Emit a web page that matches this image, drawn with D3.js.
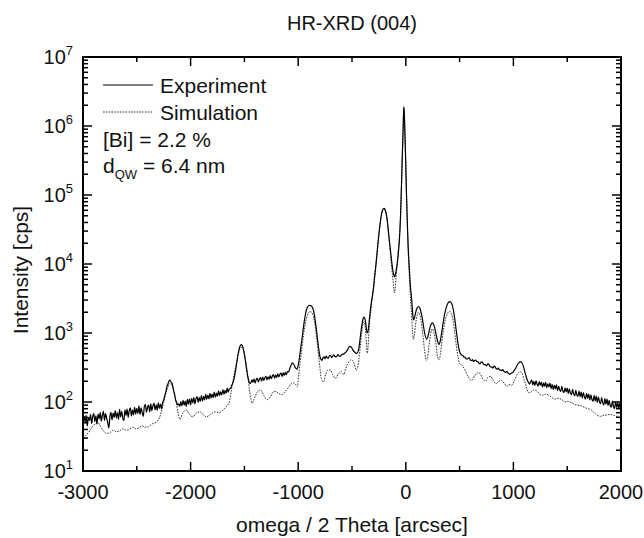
<!DOCTYPE html>
<html>
<head>
    <script type="text/javascript" src="https://d3js.org/d3.v7.min.js"></script>
    <style>
        body { margin: 0; background: #fff; }
        svg { display: block; font-family: "Liberation Sans", Arial, sans-serif; }
    </style>
</head>
<body>
    <svg></svg>
    <script>
        // measured curve: [omega/2theta (arcsec), intensity (cps)]
        const experiment = [
            [-3000, 47], [-2990, 62], [-2980, 51], [-2970, 64], [-2960, 45], [-2950, 60], [-2940, 54], [-2930, 66],
            [-2920, 49], [-2910, 61], [-2900, 68], [-2890, 52], [-2880, 63], [-2870, 48], [-2860, 67], [-2850, 57],
            [-2840, 70], [-2830, 53], [-2820, 64], [-2810, 73], [-2800, 54], [-2790, 68], [-2780, 58], [-2770, 50],
            [-2760, 42], [-2750, 62], [-2740, 71], [-2730, 55], [-2720, 69], [-2710, 60], [-2700, 75], [-2690, 59],
            [-2680, 70], [-2670, 56], [-2660, 78], [-2650, 61], [-2640, 73], [-2630, 58], [-2620, 54], [-2610, 77],
            [-2600, 64], [-2590, 79], [-2580, 60], [-2570, 75], [-2560, 82], [-2550, 63], [-2540, 77], [-2530, 65],
            [-2520, 84], [-2510, 67], [-2500, 81], [-2490, 68], [-2480, 88], [-2470, 66], [-2460, 82], [-2450, 70],
            [-2440, 62], [-2430, 86], [-2420, 92], [-2410, 71], [-2400, 84], [-2390, 90], [-2380, 72], [-2370, 94],
            [-2360, 75], [-2350, 88], [-2340, 96], [-2330, 77], [-2320, 91], [-2310, 76], [-2300, 97], [-2290, 81],
            [-2280, 93], [-2270, 80], [-2260, 100], [-2250, 106], [-2240, 124], [-2230, 140], [-2220, 168], [-2210, 184],
            [-2200, 203], [-2190, 208], [-2180, 192], [-2170, 183], [-2160, 152], [-2150, 131], [-2140, 108], [-2130, 99],
            [-2120, 90], [-2110, 94], [-2100, 86], [-2090, 101], [-2080, 88], [-2070, 106], [-2060, 90], [-2050, 103],
            [-2040, 86], [-2030, 109], [-2020, 93], [-2010, 111], [-2000, 91], [-1990, 113], [-1980, 97], [-1970, 116],
            [-1960, 94], [-1950, 112], [-1940, 120], [-1930, 99], [-1920, 117], [-1910, 102], [-1900, 124], [-1890, 104],
            [-1880, 121], [-1870, 107], [-1860, 129], [-1850, 109], [-1840, 126], [-1830, 111], [-1820, 134], [-1810, 114],
            [-1800, 130], [-1790, 116], [-1780, 139], [-1770, 118], [-1760, 135], [-1750, 121], [-1740, 145], [-1730, 124],
            [-1720, 140], [-1710, 127], [-1700, 151], [-1690, 130], [-1680, 147], [-1670, 134], [-1660, 159], [-1650, 139],
            [-1640, 155], [-1630, 156], [-1620, 172], [-1610, 185], [-1600, 205], [-1590, 242], [-1580, 300], [-1570, 380],
            [-1560, 480], [-1550, 580], [-1540, 650], [-1530, 680], [-1520, 660], [-1510, 590], [-1500, 490], [-1490, 390],
            [-1480, 300], [-1470, 240], [-1460, 205], [-1450, 186], [-1440, 190], [-1430, 210], [-1420, 194], [-1410, 216],
            [-1400, 188], [-1390, 212], [-1380, 220], [-1370, 196], [-1360, 214], [-1350, 225], [-1340, 201], [-1330, 229],
            [-1320, 206], [-1310, 224], [-1300, 236], [-1290, 209], [-1280, 232], [-1270, 214], [-1260, 242], [-1250, 218],
            [-1240, 237], [-1230, 249], [-1220, 222], [-1210, 246], [-1200, 227], [-1190, 256], [-1180, 232], [-1170, 252],
            [-1160, 262], [-1150, 235], [-1140, 265], [-1130, 243], [-1120, 268], [-1110, 248], [-1100, 276], [-1090, 272],
            [-1080, 300], [-1070, 330], [-1055, 368], [-1040, 350], [-1025, 312], [-1010, 300], [-1000, 340], [-990, 420],
            [-980, 550], [-970, 720], [-960, 950], [-950, 1250], [-940, 1600], [-930, 1950], [-920, 2250], [-910, 2420],
            [-900, 2500], [-890, 2520], [-880, 2480], [-870, 2380], [-860, 2180], [-850, 1850], [-840, 1450], [-830, 1100],
            [-820, 800], [-810, 600], [-800, 470], [-790, 420], [-780, 400], [-770, 438], [-760, 452], [-750, 422],
            [-740, 462], [-730, 440], [-720, 430], [-710, 470], [-700, 476], [-690, 440], [-680, 458], [-670, 484],
            [-660, 460], [-650, 450], [-640, 462], [-630, 488], [-620, 466], [-610, 456], [-600, 476], [-590, 496],
            [-580, 488], [-570, 510], [-560, 520], [-540, 580], [-520, 640], [-505, 620], [-490, 560], [-470, 520],
            [-455, 505], [-440, 560], [-430, 700], [-420, 950], [-410, 1250], [-400, 1550], [-390, 1700], [-380, 1600],
            [-370, 1300], [-360, 1000], [-350, 1080], [-340, 1500], [-330, 2100], [-320, 2800], [-310, 3500], [-300, 4600],
            [-290, 6500], [-280, 9000], [-270, 13000], [-260, 19000], [-250, 27000], [-240, 37000], [-230, 48000], [-220, 58000],
            [-210, 63000], [-200, 64000], [-190, 60000], [-180, 52000], [-170, 40000], [-160, 28000], [-150, 20000], [-140, 14500],
            [-130, 10500], [-120, 8000], [-110, 6800], [-104, 6500], [-98, 6900], [-90, 8000], [-80, 10000], [-70, 14000],
            [-60, 22000], [-50, 45000], [-42, 110000], [-34, 300000], [-26, 800000], [-22, 1300000], [-18, 1900000], [-14, 1500000],
            [-10, 1000000], [-2, 350000], [6, 110000], [14, 40000], [22, 18000], [32, 9000], [42, 5000], [55, 3000],
            [63, 2000], [71, 1550], [80, 1650], [92, 2000], [105, 2300], [118, 2420], [130, 2300], [145, 1900],
            [160, 1400], [175, 1000], [194, 810], [210, 950], [228, 1250], [247, 1400], [265, 1250], [285, 900],
            [300, 720], [309, 680], [320, 760], [335, 1050], [350, 1500], [365, 2000], [380, 2450], [395, 2750],
            [410, 2850], [425, 2700], [440, 2250], [455, 1600], [470, 1050], [485, 700], [500, 540], [517, 480],
            [530, 472], [540, 446], [550, 448], [560, 424], [570, 420], [580, 432], [590, 436], [600, 404],
            [610, 396], [620, 410], [630, 384], [640, 400], [650, 406], [660, 386], [670, 384], [680, 364],
            [690, 358], [700, 376], [710, 382], [720, 356], [730, 346], [740, 348], [750, 334], [760, 354],
            [770, 356], [780, 332], [790, 322], [800, 320], [810, 310], [820, 330], [830, 324], [840, 304],
            [850, 300], [860, 310], [870, 292], [880, 290], [890, 284], [900, 296], [910, 280], [920, 272],
            [930, 268], [940, 277], [950, 262], [960, 256], [970, 254], [980, 262], [990, 266], [1000, 274],
            [1010, 290], [1020, 308], [1030, 330], [1040, 352], [1050, 370], [1066, 386], [1080, 368], [1095, 320],
            [1110, 260], [1125, 215], [1140, 192], [1150, 182], [1160, 196], [1170, 208], [1180, 178], [1190, 199],
            [1200, 174], [1210, 203], [1220, 181], [1230, 170], [1240, 198], [1250, 176], [1260, 194], [1270, 164],
            [1280, 189], [1290, 169], [1300, 192], [1310, 161], [1320, 184], [1330, 165], [1340, 188], [1350, 156],
            [1360, 180], [1370, 152], [1380, 175], [1390, 155], [1400, 177], [1410, 146], [1420, 169], [1430, 151],
            [1440, 142], [1450, 168], [1460, 144], [1470, 137], [1480, 161], [1490, 140], [1500, 159], [1510, 132],
            [1520, 155], [1530, 135], [1540, 128], [1550, 152], [1560, 131], [1570, 123], [1580, 147], [1590, 126],
            [1600, 121], [1610, 144], [1620, 120], [1630, 139], [1640, 115], [1650, 137], [1660, 118], [1670, 110],
            [1680, 134], [1690, 113], [1700, 130], [1710, 107], [1720, 127], [1730, 109], [1740, 102], [1750, 125],
            [1760, 104], [1770, 122], [1780, 99], [1790, 118], [1800, 101], [1810, 95], [1820, 116], [1830, 97],
            [1840, 91], [1850, 112], [1860, 93], [1870, 110], [1880, 89], [1890, 106], [1900, 88], [1910, 84],
            [1920, 103], [1930, 86], [1940, 81], [1950, 100], [1960, 83], [1970, 98], [1980, 80], [1990, 96],
            [2000, 85]
        ];

        // simulated curve
        const simulation = [
            [-3000, 30], [-2980, 32], [-2950, 36], [-2920, 42], [-2890, 48], [-2860, 50], [-2840, 45], [-2810, 38],
            [-2780, 35], [-2750, 36], [-2720, 39], [-2690, 37], [-2660, 38], [-2630, 41], [-2600, 39], [-2570, 40],
            [-2540, 43], [-2510, 41], [-2480, 42], [-2450, 45], [-2420, 43], [-2390, 44], [-2360, 48], [-2330, 50],
            [-2300, 55], [-2280, 65], [-2260, 85], [-2240, 115], [-2220, 150], [-2200, 180], [-2190, 185], [-2180, 180],
            [-2160, 150], [-2140, 110], [-2120, 75], [-2100, 56], [-2070, 70], [-2040, 77], [-2010, 66], [-1980, 61],
            [-1950, 68], [-1916, 72], [-1885, 66], [-1854, 61], [-1815, 66], [-1777, 72], [-1740, 70], [-1700, 76],
            [-1670, 85], [-1640, 100], [-1620, 150], [-1600, 230], [-1580, 330], [-1560, 470], [-1545, 570], [-1530, 620],
            [-1515, 600], [-1500, 500], [-1485, 370], [-1470, 250], [-1455, 160], [-1440, 110], [-1429, 96], [-1410, 110],
            [-1380, 140], [-1350, 150], [-1320, 125], [-1290, 108], [-1260, 118], [-1230, 140], [-1207, 142], [-1180, 132],
            [-1150, 128], [-1130, 135], [-1100, 155], [-1070, 180], [-1040, 190], [-1025, 180], [-1008, 165], [-995, 250],
            [-980, 400], [-965, 620], [-950, 950], [-935, 1350], [-920, 1700], [-905, 1950], [-890, 2050], [-875, 2000],
            [-860, 1750], [-845, 1350], [-830, 900], [-815, 550], [-800, 330], [-785, 220], [-765, 195], [-745, 250],
            [-725, 290], [-699, 290], [-680, 250], [-653, 220], [-630, 250], [-600, 275], [-575, 250], [-560, 300],
            [-530, 380], [-505, 410], [-480, 360], [-460, 290], [-445, 330], [-430, 500], [-420, 700], [-410, 1000],
            [-400, 1300], [-391, 1450], [-382, 1350], [-372, 1000], [-364, 650], [-358, 510], [-352, 600], [-345, 900],
            [-335, 1500], [-325, 2100], [-315, 2900], [-300, 4300], [-290, 6200], [-280, 8800], [-270, 12800], [-260, 18500],
            [-250, 26500], [-240, 36000], [-230, 47000], [-220, 57000], [-210, 62000], [-200, 62000], [-190, 58000], [-180, 50000],
            [-170, 39000], [-160, 27000], [-150, 18500], [-140, 12500], [-130, 8500], [-120, 6000], [-112, 4500], [-106, 3800],
            [-100, 4200], [-92, 6000], [-84, 8500], [-76, 12000], [-68, 17000], [-60, 23000], [-50, 45000], [-42, 110000],
            [-34, 300000], [-26, 800000], [-22, 1300000], [-18, 1850000], [-14, 1450000], [-10, 1000000], [-2, 350000], [6, 110000],
            [14, 40000], [22, 16000], [32, 7000], [42, 3500], [52, 2000], [62, 1100], [70, 800], [78, 900],
            [90, 1300], [105, 1800], [118, 2000], [132, 1800], [145, 1400], [160, 900], [175, 550], [190, 400],
            [200, 420], [215, 650], [230, 950], [247, 1150], [262, 1000], [280, 700], [295, 450], [309, 410],
            [322, 500], [335, 750], [350, 1100], [365, 1500], [380, 1800], [395, 2000], [410, 2050], [425, 1900],
            [440, 1500], [455, 1000], [470, 650], [485, 450], [500, 360], [517, 350], [545, 300], [575, 240],
            [610, 205], [640, 240], [665, 265], [690, 260], [715, 215], [740, 200], [765, 230], [790, 235],
            [815, 200], [840, 185], [865, 200], [890, 205], [915, 185], [940, 168], [960, 180], [985, 175],
            [1010, 205], [1035, 250], [1060, 275], [1080, 260], [1100, 210], [1120, 165], [1145, 135], [1165, 140],
            [1190, 150], [1215, 145], [1240, 132], [1270, 125], [1300, 130], [1330, 125], [1360, 115], [1390, 110],
            [1420, 113], [1450, 108], [1480, 100], [1510, 102], [1540, 98], [1570, 92], [1600, 90], [1630, 88],
            [1660, 84], [1690, 80], [1720, 78], [1750, 70], [1780, 64], [1810, 62], [1840, 64], [1870, 65],
            [1900, 66], [1930, 64], [1960, 62], [1980, 60], [2000, 58]
        ];

        const xTicks = [-3000, -2000, -1000, 0, 1000, 2000];
        const xMinorTicks = [-2500, -1500, -500, 500, 1500];
        const yExponents = [1, 2, 3, 4, 5, 6, 7];
        const legendNotes = ["[Bi] = 2.2 %"];

        const width = 644, height = 538;
        const margin = {top: 57, right: 23, bottom: 67, left: 83};
        const innerW = width - margin.left - margin.right;
        const innerH = height - margin.top - margin.bottom;

        const svg = d3.select("svg").attr("width", width).attr("height", height);
        const g = svg.append("g").attr("transform", `translate(${margin.left},${margin.top})`);

        const x = d3.scaleLinear().domain([-3000, 2000]).range([0, innerW]);
        const y = d3.scaleLog().domain([10, 1e7]).range([innerH, 0]);

        // minor log ticks 2..9 in each decade
        const yMinor = [];
        yExponents.slice(0, -1).forEach(e => {
            for (let m = 2; m <= 9; m++) yMinor.push(m * Math.pow(10, e));
        });

        svg.append("clipPath").attr("id", "clip")
            .append("rect").attr("width", innerW).attr("height", innerH);

        const line = d3.line()
            .x(d => x(d[0]))
            .y(d => y(d[1]))
            .curve(d3.curveMonotoneX);

        const plot = g.append("g").attr("clip-path", "url(#clip)");

        plot.append("path")
            .datum(simulation)
            .attr("d", line)
            .attr("fill", "none")
            .attr("stroke", "#333")
            .attr("stroke-width", 1)
            .attr("stroke-dasharray", "1.6,1.2");

        plot.append("path")
            .datum(experiment)
            .attr("d", line)
            .attr("fill", "none")
            .attr("stroke", "#000")
            .attr("stroke-width", 1.2);

        // ticks pointing inward on all four sides
        const ax = g.append("g").attr("stroke", "#000").attr("stroke-width", 1.5);
        const tickX = (vals, len) => {
            vals.forEach(v => {
                ax.append("line").attr("x1", x(v)).attr("x2", x(v)).attr("y1", innerH).attr("y2", innerH - len);
                ax.append("line").attr("x1", x(v)).attr("x2", x(v)).attr("y1", 0).attr("y2", len);
            });
        };
        const tickY = (vals, len) => {
            vals.forEach(v => {
                ax.append("line").attr("y1", y(v)).attr("y2", y(v)).attr("x1", 0).attr("x2", len);
                ax.append("line").attr("y1", y(v)).attr("y2", y(v)).attr("x1", innerW).attr("x2", innerW - len);
            });
        };
        tickX(xTicks, 9);
        tickX(xMinorTicks, 5);
        tickY(yExponents.map(e => Math.pow(10, e)), 9);
        tickY(yMinor, 5);

        g.append("rect")
            .attr("width", innerW).attr("height", innerH)
            .attr("fill", "none").attr("stroke", "#000").attr("stroke-width", 2);

        // tick labels
        g.selectAll(".xl").data(xTicks).enter().append("text")
            .attr("x", d => x(d)).attr("y", innerH + 28)
            .attr("text-anchor", "middle").attr("font-size", 20).attr("fill", "#111")
            .text(d => d);

        const yl = g.selectAll(".yl").data(yExponents).enter().append("text")
            .attr("x", -10).attr("y", d => y(Math.pow(10, d)) + 7)
            .attr("text-anchor", "end").attr("font-size", 20).attr("fill", "#111");
        yl.append("tspan").text("10");
        yl.append("tspan").attr("font-size", 13).attr("dy", -9).text(d => d);

        // axis titles
        svg.append("text")
            .attr("x", margin.left + innerW / 2).attr("y", 30)
            .attr("text-anchor", "middle").attr("font-size", 20).attr("fill", "#111")
            .text("HR-XRD (004)");
        svg.append("text")
            .attr("x", margin.left + innerW / 2).attr("y", height - 6)
            .attr("text-anchor", "middle").attr("font-size", 21).attr("fill", "#111")
            .text("omega / 2 Theta [arcsec]");
        svg.append("text")
            .attr("transform", `translate(28,${margin.top + innerH / 2 + 6}) rotate(-90)`)
            .attr("text-anchor", "middle").attr("font-size", 21).attr("fill", "#111")
            .text("Intensity [cps]");

        // legend
        const lg = g.append("g").attr("transform", "translate(20,0)");
        lg.append("line").attr("x1", 0).attr("x2", 50).attr("y1", 28).attr("y2", 28)
            .attr("stroke", "#000").attr("stroke-width", 1.2);
        lg.append("text").attr("x", 57).attr("y", 36).attr("font-size", 21).attr("fill", "#111").text("Experiment");
        lg.append("line").attr("x1", 0).attr("x2", 50).attr("y1", 55).attr("y2", 55)
            .attr("stroke", "#333").attr("stroke-width", 1).attr("stroke-dasharray", "1.6,1.2");
        lg.append("text").attr("x", 57).attr("y", 63).attr("font-size", 21).attr("fill", "#111").text("Simulation");
        lg.append("text").attr("x", 0).attr("y", 90).attr("font-size", 21).attr("fill", "#111").text(legendNotes[0]);
        const dq = lg.append("text").attr("x", 0).attr("y", 116).attr("font-size", 21).attr("fill", "#111");
        dq.append("tspan").text("d");
        dq.append("tspan").attr("font-size", 13).attr("dy", 6).text("QW");
        dq.append("tspan").attr("dy", -6).text(" = 6.4 nm");
    </script>
</body>
</html>
